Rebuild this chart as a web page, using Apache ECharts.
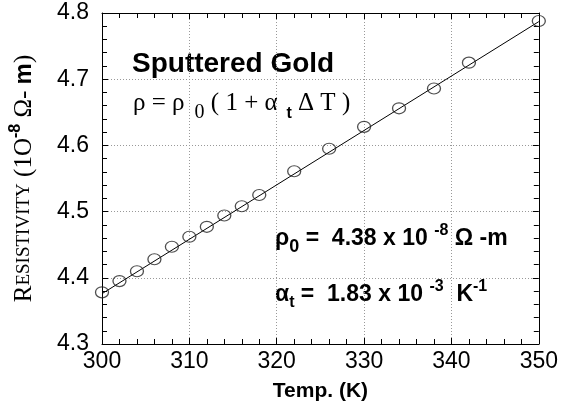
<!DOCTYPE html>
<html>
<head>
<meta charset="utf-8">
<script src="https://cdn.jsdelivr.net/npm/echarts@6/dist/echarts.min.js"></script>
<style>html,body{margin:0;padding:0;background:#fff}#c{width:561px;height:407px}</style>
</head>
<body>
<div id="c"></div>
<script>
// Data
const temps = [300, 302, 304, 306, 308, 310, 312, 314, 316, 318, 322, 326, 330, 334, 338, 342, 350];
const resistivity = [4.378, 4.395, 4.410, 4.428, 4.447, 4.462, 4.477, 4.494, 4.508, 4.525, 4.561, 4.595, 4.628, 4.656, 4.686, 4.725, 4.788];
const fitTemps = [300, 350];
const fitValues = [4.376, 4.787];
const xTicks = [300, 310, 320, 330, 340, 350];
const yTicks = [4.3, 4.4, 4.5, 4.6, 4.7, 4.8];

const chart = echarts.init(document.getElementById('c'));
const sans = '"Liberation Sans", Arial, sans-serif';
const serif = '"Liberation Serif", "Times New Roman", serif';

const axisCommon = {
  axisLine: { show: true, onZero: false, lineStyle: { color: '#000', width: 1 } },
  axisTick: { show: true, inside: true, length: 6, lineStyle: { color: '#000', width: 1 } },
  minorTick: { show: true, splitNumber: 5, length: 5, lineStyle: { color: '#000', width: 1 } },
  splitLine: { show: false }
};

chart.setOption({
  animation: false,
  backgroundColor: '#fff',
  grid: { left: 95, right: 19, top: 13, bottom: 63 },
  xAxis: [
    Object.assign({}, axisCommon, {
      type: 'value', min: xTicks[0], max: xTicks[xTicks.length - 1], interval: 10,
      position: 'bottom',
      axisLabel: { color: '#000', fontFamily: sans, fontSize: 23, margin: 6 },
      splitLine: { show: true, lineStyle: { color: '#999', type: [1, 2], width: 1 } },
      name: 'Temp. (K)', nameLocation: 'middle', nameGap: 37,
      nameTextStyle: { color: '#000', fontFamily: sans, fontSize: 21, fontWeight: 'bold' }
    }),
    Object.assign({}, axisCommon, {
      type: 'value', min: xTicks[0], max: xTicks[xTicks.length - 1], interval: 10,
      position: 'top', axisLabel: { show: false }
    })
  ],
  yAxis: [
    Object.assign({}, axisCommon, {
      type: 'value', min: yTicks[0], max: yTicks[yTicks.length - 1], interval: 0.1,
      position: 'left',
      axisLabel: { color: '#000', fontFamily: sans, fontSize: 23, margin: 13,
        formatter: v => v.toFixed(1) },
      splitLine: { show: true, lineStyle: { color: '#999', type: [1, 2], width: 1 } },
      name: '{big|R}{small|ESISTIVITY}{big| (1O}{sup|-8}{big| Ω- }{mb|m}{big|)}',
      nameLocation: 'middle', nameGap: 62, nameRotate: 90,
      nameTextStyle: {
        color: '#000',
        rich: {
          big: { fontFamily: serif, fontSize: 25, color: '#000' },
          small: { fontFamily: serif, fontSize: 19, color: '#000' },
          sup: { fontFamily: sans, fontSize: 16, fontWeight: 'bold', color: '#000', padding: [0, 0, 16, 0] },
          mb: { fontFamily: sans, fontSize: 24, fontWeight: 'bold', color: '#000' }
        }
      }
    }),
    Object.assign({}, axisCommon, {
      type: 'value', min: yTicks[0], max: yTicks[yTicks.length - 1], interval: 0.1,
      position: 'right', axisLabel: { show: false }
    })
  ],
  series: [
    {
      type: 'line',
      data: fitTemps.map((t, i) => [t, fitValues[i]]),
      symbol: 'none',
      lineStyle: { color: '#000', width: 1 },
      z: 2
    },
    {
      type: 'scatter',
      data: temps.map((t, i) => [t, resistivity[i]]),
      symbol: 'circle',
      symbolSize: [13, 11],
      itemStyle: { color: 'rgba(0,0,0,0)', borderColor: '#222', borderWidth: 1.2 },
      z: 3
    }
  ],
  graphic: [
    {
      type: 'text', left: 132, top: 50,
      style: { text: 'Sputtered Gold', font: 'bold 28px ' + sans, fill: '#000' }
    },
    {
      type: 'text', left: 133, top: 91,
      style: {
        text: '{s|ρ = ρ}{sub|  0}{s| ( 1 + α}{subb|  t}{s| Δ T )}',
        rich: {
          s: { fontFamily: serif, fontSize: 25, color: '#000' },
          sub: { fontFamily: serif, fontSize: 20, color: '#000', padding: [18, 0, 0, 0] },
          subb: { fontFamily: sans, fontSize: 16, fontWeight: 'bold', color: '#000', padding: [20, 0, 0, 0] }
        }
      }
    },
    {
      type: 'text', left: 275, top: 223,
      style: {
        text: '{s|ρ}{sub|0}{s| =  4.38 x 10 }{sup|-8}{s| Ω -m}',
        rich: {
          s: { fontFamily: sans, fontSize: 23, fontWeight: 'bold', color: '#000' },
          sub: { fontFamily: sans, fontSize: 18, fontWeight: 'bold', color: '#000', padding: [16, 0, 0, 0] },
          sup: { fontFamily: sans, fontSize: 16, fontWeight: 'bold', color: '#000', padding: [0, 0, 16, 0] }
        }
      }
    },
    {
      type: 'text', left: 275, top: 279,
      style: {
        text: '{s|α}{sub|t}{s| =  1.83 x 10 }{sup|-3}{s|  K}{sup|-1}',
        rich: {
          s: { fontFamily: sans, fontSize: 23, fontWeight: 'bold', color: '#000' },
          sub: { fontFamily: sans, fontSize: 16, fontWeight: 'bold', color: '#000', padding: [16, 0, 0, 0] },
          sup: { fontFamily: sans, fontSize: 16, fontWeight: 'bold', color: '#000', padding: [0, 0, 16, 0] }
        }
      }
    }
  ]
});
</script>
</body>
</html>
